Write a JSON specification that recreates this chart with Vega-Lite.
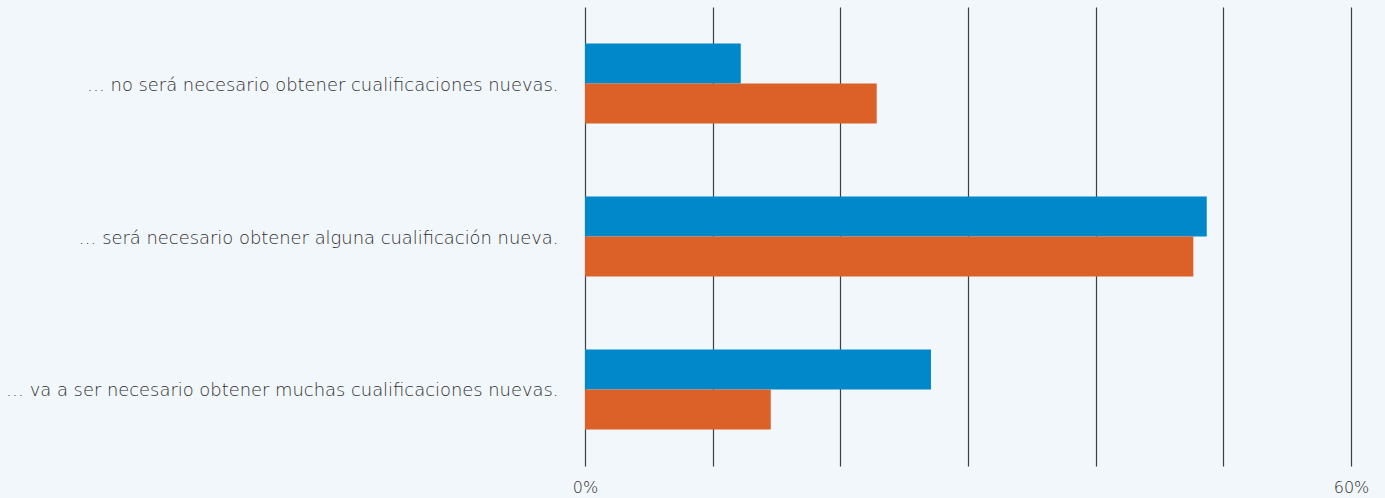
{
  "$schema": "https://vega.github.io/schema/vega-lite/v6.json",
  "autosize": "none",
  "width": 766,
  "height": 459,
  "padding": {"left": 585, "top": 7, "right": 34, "bottom": 32},
  "background": "#F2F7FB",
  "config": {
    "view": {"stroke": null},
    "font": "DejaVu Sans"
  },
  "data": {
    "values": [
      {"categoria": "… no será necesario obtener cualificaciones nuevas.", "serie": "Serie 1", "valor": 12.2},
      {"categoria": "… no será necesario obtener cualificaciones nuevas.", "serie": "Serie 2", "valor": 22.85},
      {"categoria": "… será necesario obtener alguna cualificación nueva.", "serie": "Serie 1", "valor": 48.7},
      {"categoria": "… será necesario obtener alguna cualificación nueva.", "serie": "Serie 2", "valor": 47.65},
      {"categoria": "… va a ser necesario obtener muchas cualificaciones nuevas.", "serie": "Serie 1", "valor": 27.1},
      {"categoria": "… va a ser necesario obtener muchas cualificaciones nuevas.", "serie": "Serie 2", "valor": 14.55}
    ]
  },
  "mark": {"type": "bar"},
  "encoding": {
    "y": {
      "field": "categoria",
      "type": "nominal",
      "sort": null,
      "scale": {"paddingInner": 0.477, "paddingOuter": 0.2386},
      "axis": {
        "title": null,
        "domain": false,
        "ticks": false,
        "grid": false,
        "labelPadding": 27,
        "labelOffset": 2,
        "labelFontSize": 17.9,
        "labelFont": "DejaVu Sans",
        "labelFontWeight": 200,
        "labelColor": "#2e2e2e",
        "labelLimit": 600
      }
    },
    "yOffset": {"field": "serie", "type": "nominal", "sort": null},
    "x": {
      "field": "valor",
      "type": "quantitative",
      "scale": {"domain": [0, 60], "nice": false},
      "axis": {
        "title": null,
        "values": [0, 10, 20, 30, 40, 50, 60],
        "labelExpr": "datum.value == 0 || datum.value == 60 ? datum.value + '%' : ''",
        "domain": false,
        "ticks": false,
        "grid": true,
        "gridColor": "#3c4246",
        "gridWidth": 1.2,
        "gridOpacity": 1,
        "labelPadding": 13,
        "labelFontSize": 16,
        "labelFont": "DejaVu Sans",
        "labelFontWeight": 200,
        "labelColor": "#2e2e2e",
        "labelFlush": false
      }
    },
    "color": {
      "field": "serie",
      "type": "nominal",
      "scale": {"domain": ["Serie 1", "Serie 2"], "range": ["#0088CA", "#DC6128"]},
      "legend": null
    }
  }
}
